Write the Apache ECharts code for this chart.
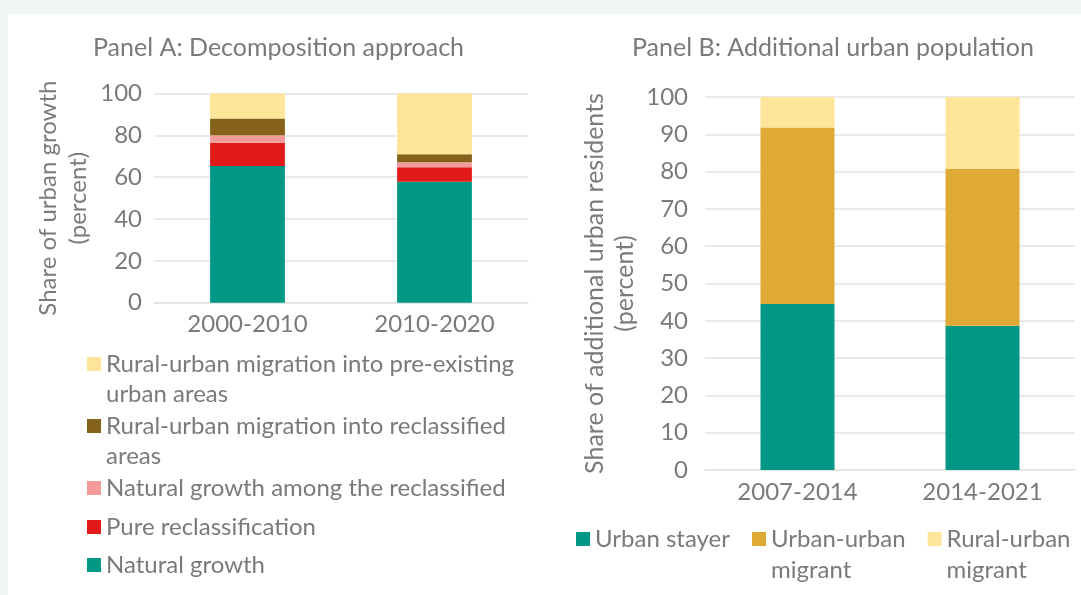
<!DOCTYPE html>
<html>
<head>
<meta charset="utf-8">
<script src="https://cdn.jsdelivr.net/npm/echarts@6/dist/echarts.min.js"></script>
<style>
  html, body { margin: 0; padding: 0; background: #eff5f3; }
  #chart { width: 1081px; height: 595px; }
</style>
</head>
<body>
<div id="chart"></div>
<script>
// Panel A: decomposition of urban growth (percent)
var periodsA = ["2000-2010", "2010-2020"];
var naturalGrowth = [65.4, 57.8];
var pureReclass = [11.0, 7.0];
var naturalReclassified = [3.7, 2.3];
var migrationReclassified = [8.0, 3.9];
var migrationPreexisting = [11.9, 29.0];

// Panel B: additional urban residents (percent)
var periodsB = ["2007-2014", "2014-2021"];
var urbanStayer = [44.5, 38.7];
var urbanUrban = [47.3, 42.0];
var ruralUrban = [8.2, 19.3];

var ticksA = { min: 0, max: 100, interval: 20 };
var ticksB = { min: 0, max: 100, interval: 10 };

var FONT = "Lato";
var GREY = "#7a7a7a";
var GRID_LINE = "#e3e3e3";

function valueAxis(idx, t, name, gap, nameSize, margin) {
  return {
    type: "value", gridIndex: idx, min: t.min, max: t.max, interval: t.interval,
    name: name, nameLocation: "middle", nameGap: gap,
    nameTextStyle: { color: GREY, fontFamily: FONT, fontSize: nameSize, lineHeight: 30 },
    axisLine: { show: false }, axisTick: { show: false },
    axisLabel: { color: GREY, fontFamily: FONT, fontSize: 24, margin: margin },
    splitLine: { lineStyle: { color: GRID_LINE, width: 1.5 } }
  };
}

function catAxis(idx, data) {
  return {
    type: "category", gridIndex: idx, data: data,
    axisLine: { lineStyle: { color: GRID_LINE, width: 1.5 } },
    axisTick: { show: false },
    axisLabel: { color: GREY, fontFamily: FONT, fontSize: 24, margin: 10 }
  };
}

function bar(name, data, color, idx, stack) {
  return {
    name: name, type: "bar", xAxisIndex: idx, yAxisIndex: idx, stack: stack,
    data: data, barWidth: "40%", itemStyle: { color: color }
  };
}

// blank first line keeps the square level with the first line of wrapped names
function legendText(name) {
  return name.indexOf("\n") >= 0 ? "\n" + name : name;
}

function legendItem(name, top, left) {
  return {
    top: top, left: left, padding: 0, selectedMode: false,
    itemWidth: 14, itemHeight: 14, icon: "rect", formatter: legendText,
    textStyle: { color: GREY, fontFamily: FONT, fontSize: 24, lineHeight: 30 },
    data: [name]
  };
}

var nameA1 = "Rural-urban migration into pre-existing\nurban areas";
var nameA2 = "Rural-urban migration into reclassified\nareas";
var nameA3 = "Natural growth among the reclassified";
var nameA4 = "Pure reclassification";
var nameA5 = "Natural growth";

var chart = echarts.init(document.getElementById("chart"));
chart.setOption({
  backgroundColor: "#eff5f3",
  animation: false,
  graphic: [{ type: "rect", shape: { x: 8, y: 14, width: 1073, height: 581 }, style: { fill: "#ffffff" }, z: -10 }],
  title: [
    { text: "Panel A: Decomposition approach", left: 93, top: 35, padding: 0,
      textStyle: { color: GREY, fontFamily: FONT, fontSize: 25, fontWeight: "normal" } },
    { text: "Panel B: Additional urban population", left: 632, top: 35, padding: 0,
      textStyle: { color: GREY, fontFamily: FONT, fontSize: 25, fontWeight: "normal" } }
  ],
  grid: [
    { left: 154, right: 553, top: 93.5, bottom: 292.3 },
    { left: 705, right: 6, top: 97, bottom: 125 }
  ],
  xAxis: [catAxis(0, periodsA), catAxis(1, periodsB)],
  yAxis: [
    valueAxis(0, ticksA, "Share of urban growth\n(percent)", 61, 24, 12),
    valueAxis(1, ticksB, "Share of additional urban residents\n(percent)", 65, 25, 17)
  ],
  legend: [
    legendItem(nameA1, 319, 87),
    legendItem(nameA2, 381, 87),
    legendItem(nameA3, 473, 87),
    legendItem(nameA4, 512, 87),
    legendItem(nameA5, 550, 87),
    {
      top: 492.5, left: 576, padding: 0, selectedMode: false, itemGap: 22,
      itemWidth: 14, itemHeight: 14, icon: "rect", formatter: legendText,
      textStyle: { color: GREY, fontFamily: FONT, fontSize: 24, lineHeight: 31 },
      data: ["Urban stayer", "Urban-urban\nmigrant", "Rural-urban\nmigrant"]
    }
  ],
  series: [
    bar(nameA5, naturalGrowth, "#009885", 0, "a"),
    bar(nameA4, pureReclass, "#e31a1a", 0, "a"),
    bar(nameA3, naturalReclassified, "#f39b9b", 0, "a"),
    bar(nameA2, migrationReclassified, "#85621a", 0, "a"),
    bar(nameA1, migrationPreexisting, "#fee599", 0, "a"),
    bar("Urban stayer", urbanStayer, "#009885", 1, "b"),
    bar("Urban-urban\nmigrant", urbanUrban, "#dfa935", 1, "b"),
    bar("Rural-urban\nmigrant", ruralUrban, "#fee599", 1, "b")
  ]
});
</script>
</body>
</html>
